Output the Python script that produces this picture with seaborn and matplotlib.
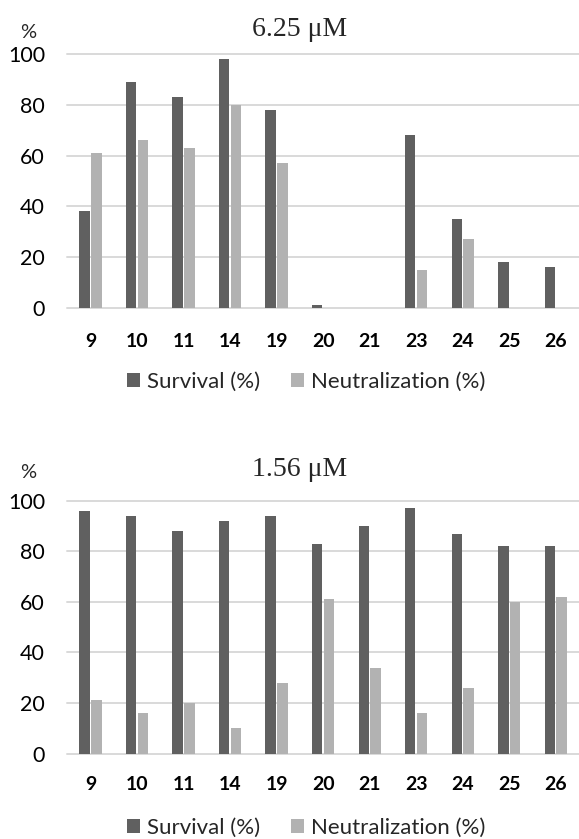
import pandas as pd
import matplotlib
matplotlib.use("Agg")
import matplotlib.pyplot as plt
import seaborn as sns

# Data
compounds = ['9', '10', '11', '14', '19', '20', '21', '23', '24', '25', '26']
series_names = ['Survival (%)', 'Neutralization (%)']

# 6.25 uM
survival_625 = [38, 89, 83, 98, 78, 1, 0, 68, 35, 18, 16]
neutral_625 = [61, 66, 63, 80, 57, 0, 0, 15, 27, 0, 0]

# 1.56 uM
survival_156 = [96, 94, 88, 92, 94, 83, 90, 97, 87, 82, 82]
neutral_156 = [21, 16, 20, 10, 28, 61, 34, 16, 26, 60, 62]

y_ticks = [0, 20, 40, 60, 80, 100]

colors = ['#606060', '#b2b2b2']
grid_color = '#d9d9d9'

sns.set_style("white")
plt.rcParams['font.family'] = ['Lato', 'DejaVu Sans']

W, H = 579, 839
fig = plt.figure(figsize=(W / 100, H / 100), dpi=100)


def make_frame(surv, neut):
    df = pd.DataFrame({
        'compound': compounds * 2,
        'value': list(surv) + list(neut),
        'series': [series_names[0]] * len(compounds) + [series_names[1]] * len(compounds),
    })
    return df


def draw_chart(top_px, zero_px, surv, neut, title, title_y, pct_y, label_pad, legend_y):
    ax = fig.add_axes([67.3 / W, 1 - zero_px / H, (W - 67.3) / W, (zero_px - top_px) / H])
    df = make_frame(surv, neut)
    sns.barplot(data=df, x='compound', y='value', hue='series',
                hue_order=series_names, order=compounds, palette=colors,
                width=0.51, gap=0.12, linewidth=0, saturation=1, ax=ax)
    ax.set_ylim(0, 100)
    ax.set_xlim(-0.5, len(compounds) - 0.5)
    ax.set_yticks(y_ticks)
    ax.set_xlabel('')
    ax.set_ylabel('')
    sns.despine(ax=ax, left=True, bottom=True)
    ax.set_axisbelow(True)
    ax.yaxis.grid(True, color=grid_color, linewidth=1.4)
    for line in ax.get_ygridlines():
        line.set_clip_on(False)
    ax.tick_params(axis='y', length=0, pad=16, labelsize=15.5, labelcolor='black')
    ax.tick_params(axis='x', length=0, pad=label_pad, labelsize=14, labelcolor='black')
    for lab in ax.get_xticklabels():
        lab.set_fontweight('bold')

    # legend below the chart
    handles, labels = ax.get_legend_handles_labels()
    ax.get_legend().remove()
    fig.legend(handles, labels, loc='center', bbox_to_anchor=(306 / W, 1 - legend_y / H),
               ncol=2, frameon=False, fontsize=16, handlelength=0.6,
               handleheight=0.6, handletextpad=0.3, columnspacing=1.4)

    fig.text(300 / W, 1 - title_y / H, title, ha='center', va='center',
             family='Liberation Serif', fontsize=20)
    fig.text(27.7 / W, 1 - pct_y / H, '%', ha='center', va='center', fontsize=14.5)
    return ax


draw_chart(54.3, 307.8, survival_625, neutral_625, '6.25 \u03bcM', 30, 33, 18, 381.7)
draw_chart(500.7, 753.5, survival_156, neutral_156, '1.56 \u03bcM', 470, 472, 16, 828)

fig.savefig('out.png', dpi=100)
